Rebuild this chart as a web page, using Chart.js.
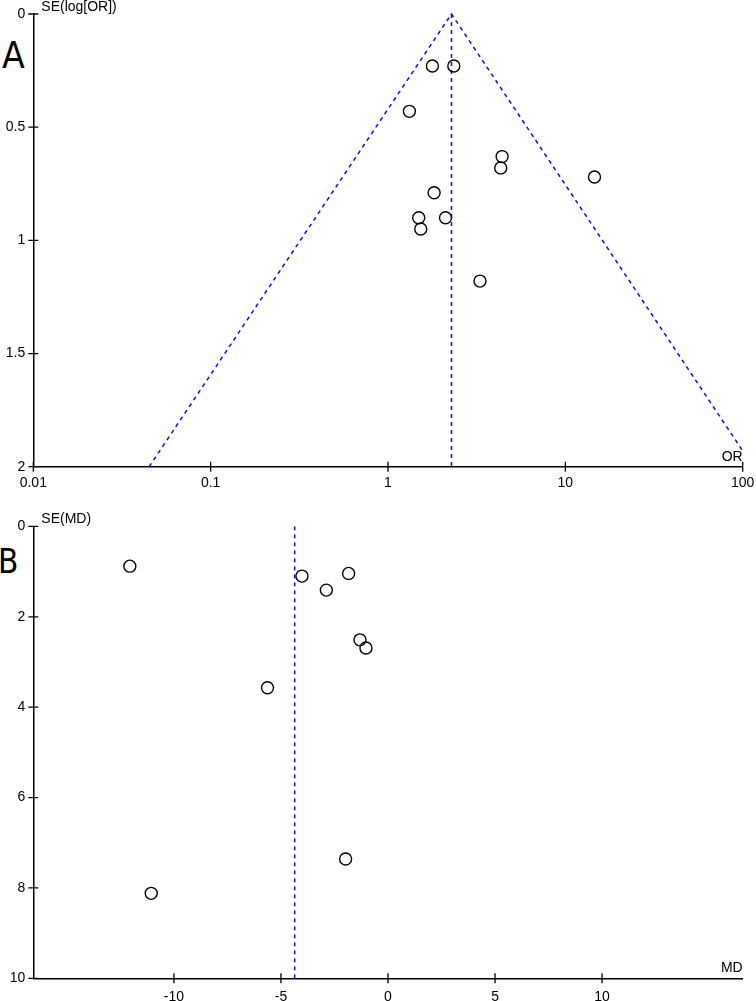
<!DOCTYPE html>
<html>
<head>
<meta charset="utf-8">
<script src="https://cdn.jsdelivr.net/npm/chart.js@4"></script>
<style>
body { margin: 0; background: #fff; width: 756px; height: 1001px; position: relative; overflow: hidden; }
canvas { position: absolute; left: 0; }
#chartA { top: 0; }
#chartB { top: 500px; }
.panel { position: absolute; font-family: "Liberation Sans Narrow", "DejaVu Sans Condensed", sans-serif; line-height: 1; color: #000; }
</style>
</head>
<body>
<div class="panel" style="left:2px; top:37px; font-size:37px">A</div>
<div class="panel" style="left:-2px; top:545px; font-size:33px">B</div>
<canvas id="chartA" width="756" height="500"></canvas>
<canvas id="chartB" width="756" height="501"></canvas>
<script>
// panel A - odds ratios against SE(log[OR])
const studyOR = [1.78, 2.35, 1.32, 4.40, 4.32, 14.6, 1.82, 1.49, 2.11, 1.53, 3.30];
const studySeA = [0.23, 0.23, 0.43, 0.63, 0.68, 0.72, 0.79, 0.90, 0.90, 0.95, 1.18];
const pooledOR = 2.28;
const funnelOR = [0.045, 2.28, 100];
const funnelSE = [2, 0, 1.93];
const ticksOR = [0.01, 0.1, 1, 10, 100];
const ticksSeA = [0, 0.5, 1, 1.5, 2];

// panel B - mean differences against SE(MD)
const studyMD = [-12.06, -4.02, -1.84, -2.88, -1.31, -1.03, -5.63, -1.98, -11.06];
const studySeB = [0.88, 1.10, 1.04, 1.41, 2.51, 2.69, 3.57, 7.36, 8.12];
const pooledMD = -4.36;
const ticksMD = [-10, -5, 0, 5, 10];
const ticksSeB = [0, 2, 4, 6, 8, 10];

const FONT = '"Liberation Sans", Arial, sans-serif';
const BLUE = '#0a0af0';

// tick marks that cross the axis + the two axis titles
const axisExtras = {
    id: 'axisExtras',
    afterDraw(chart, args, opts) {
        const { ctx, chartArea: a, scales: { x, y } } = chart;
        ctx.save();
        ctx.strokeStyle = '#000';
        ctx.lineWidth = 1.3;
        ctx.beginPath();
        x.ticks.forEach(t => {
            const p = x.getPixelForValue(t.value);
            ctx.moveTo(p, a.bottom - 5);
            ctx.lineTo(p, a.bottom + 5);
        });
        y.ticks.forEach(t => {
            const p = y.getPixelForValue(t.value);
            ctx.moveTo(a.left - 5, p);
            ctx.lineTo(a.left + 5, p);
        });
        ctx.stroke();
        ctx.fillStyle = '#000';
        ctx.font = '14px ' + FONT;
        ctx.textBaseline = 'alphabetic';
        ctx.textAlign = 'left';
        ctx.fillText(opts.yTitle, a.left + 8, a.top - 3);
        ctx.textAlign = 'right';
        ctx.fillText(opts.xTitle, a.right, a.bottom - 6);
        ctx.restore();
    }
};

const toPoints = (xs, ys) => xs.map((v, i) => ({ x: v, y: ys[i] }));

const dashed = (pts) => ({
    data: pts, showLine: true, pointRadius: 0, borderColor: BLUE,
    borderWidth: 1.5, borderDash: [4, 4], clip: false
});

const circles = (pts) => ({
    data: pts, pointRadius: 6, pointHoverRadius: 6, borderColor: '#000',
    borderWidth: 1.4, backgroundColor: 'rgba(0,0,0,0)'
});

const funnelChart = function (id, c) {
    return new Chart(document.getElementById(id), {
        type: 'scatter',
        data: { datasets: c.datasets },
        options: {
            responsive: false,
            animation: false,
            devicePixelRatio: 1,
            layout: { padding: { top: c.top, right: 13.3, left: 0, bottom: 0 } },
            plugins: {
                legend: { display: false },
                tooltip: { enabled: false },
                axisExtras: { xTitle: c.xTitle, yTitle: c.yTitle }
            },
            scales: {
                x: {
                    type: c.xType, min: c.xMin, max: c.xMax,
                    afterBuildTicks: s => { s.ticks = c.xTicks.map(v => ({ value: v })); },
                    afterFit: s => { s.height = c.xAxisH; s.paddingLeft = 0; s.paddingRight = 0; },
                    grid: { display: false, drawTicks: false },
                    border: { color: '#000', width: 1.5 },
                    ticks: {
                        color: '#000', font: { family: FONT, size: 14 }, padding: c.xPad,
                        autoSkip: false, maxRotation: 0, callback: v => String(v)
                    }
                },
                y: {
                    type: 'linear', reverse: true, min: c.yMin, max: c.yMax,
                    afterBuildTicks: s => { s.ticks = c.yTicks.map(v => ({ value: v })); },
                    afterFit: s => { s.width = 33.3; s.paddingTop = 0; s.paddingBottom = 0; },
                    grid: { display: false, drawTicks: false },
                    border: { color: '#000', width: 1.5 },
                    ticks: {
                        color: '#000', font: { family: FONT, size: 14 }, padding: 8,
                        autoSkip: false, callback: v => String(v)
                    }
                }
            }
        },
        plugins: [axisExtras]
    });
}

funnelChart('chartA', {
    top: 14, xAxisH: 33.3, xPad: 8,
    xType: 'logarithmic', xMin: 0.01, xMax: 100, xTicks: ticksOR,
    yMin: 0, yMax: 2, yTicks: ticksSeA,
    xTitle: 'OR', yTitle: 'SE(log[OR])',
    datasets: [
        circles(toPoints(studyOR, studySeA)),
        dashed(toPoints(funnelOR, funnelSE)),
        dashed(toPoints([pooledOR, pooledOR], [0, 2]))
    ]
});

funnelChart('chartB', {
    top: 26.4, xAxisH: 22.7, xPad: 10,
    xType: 'linear', xMin: -16.57, xMax: 16.57, xTicks: ticksMD,
    yMin: 0, yMax: 10, yTicks: ticksSeB,
    xTitle: 'MD', yTitle: 'SE(MD)',
    datasets: [
        circles(toPoints(studyMD, studySeB)),
        dashed(toPoints([pooledMD, pooledMD], [0, 10]))
    ]
});
</script>
</body>
</html>
